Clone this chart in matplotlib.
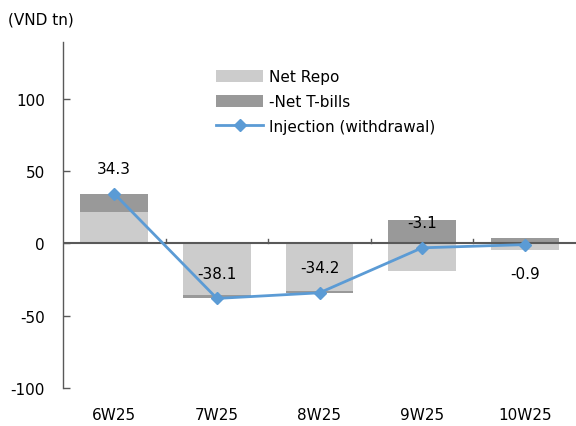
import matplotlib
matplotlib.use("Agg")
import matplotlib.pyplot as plt
from matplotlib.lines import Line2D
from matplotlib.patches import Patch
import numpy as np

plt.rcParams['font.family'] = ['DejaVu Sans']

weeks = ["6W25", "7W25", "8W25", "9W25", "10W25"]
net_repo = [21.5, -36.0, -32.8, -19.0, -4.3]
neg_net_tbills = [12.8, -2.1, -1.4, 15.9, 3.4]
injection = [34.3, -38.1, -34.2, -3.1, -0.9]

light_grey = "#cccccc"
dark_grey = "#999999"
line_blue = "#5b9bd5"
axis_col = "#595959"

fig = plt.figure(figsize=(5.76, 4.27), dpi=100)
ax = fig.add_axes([63 / 576, 1 - 389 / 427, 513 / 576, (389 - 42.5) / 427])

x = np.arange(len(weeks))
repo = np.array(net_repo)
tb = np.array(neg_net_tbills)
width = 0.66

# stack each T-bill segment on the repo segment when they share a sign
tb_base = np.where(np.sign(tb) == np.sign(repo), repo, 0.0)
ax.bar(x, repo, width, color=light_grey, zorder=2)
ax.bar(x, tb, width, bottom=tb_base, color=dark_grey, zorder=2)

ax.plot(x, injection, color=line_blue, lw=2, marker="D", ms=6,
        markerfacecolor=line_blue, markeredgecolor=line_blue, zorder=4)

# value labels
for xi, v in zip(x, injection):
    dy = -21 if xi == len(weeks) - 1 else 18
    ax.annotate(f"{v:.1f}", (xi, v), xytext=(0, dy), textcoords="offset points",
                ha="center", va="center", fontsize=11, color="black", zorder=5)

ax.set_xlim(-0.5, len(weeks) - 0.5)
ax.set_ylim(-100, 139.5)
ax.set_yticks([-100, -50, 0, 50, 100])
ax.set_yticklabels(["-100", "-50", "0", "50", "100"])
ax.tick_params(axis="y", direction="in", length=5, width=1, color=axis_col,
               labelsize=11, pad=13)

for s in ["top", "right", "bottom"]:
    ax.spines[s].set_visible(False)
ax.spines["left"].set_color(axis_col)
ax.spines["left"].set_linewidth(1)

# zero line with category-boundary ticks
ax.axhline(0, color=axis_col, lw=1.5, zorder=3)
ax.set_xticks([])
for b in np.arange(0.5, len(weeks) - 0.5, 1.0):
    ax.plot([b, b], [0, 3.0], color=axis_col, lw=1, zorder=3)

# category labels below the plot
for xi, w in zip(x, weeks):
    t = ax.text(xi, -118, w, ha="center", va="center", fontsize=11)
    t.set_clip_on(False)

fig.text(8 / 576, 1 - 20 / 427, "(VND tn)", ha="left", va="center", fontsize=11)

handles = [Patch(facecolor=light_grey, edgecolor="none"),
           Patch(facecolor=dark_grey, edgecolor="none"),
           Line2D([0], [0], color=line_blue, lw=2, marker="D", ms=6)]
labels = ["Net Repo", "-Net T-bills", "Injection (withdrawal)"]
leg = fig.legend(handles, labels, loc="upper left",
                 bbox_to_anchor=(210 / 576, 1 - 64 / 427), frameon=False,
                 fontsize=11, handlelength=3.1, handleheight=0.8,
                 handletextpad=0.35, labelspacing=0.65, borderaxespad=0)

fig.savefig("out.png", dpi=100)
